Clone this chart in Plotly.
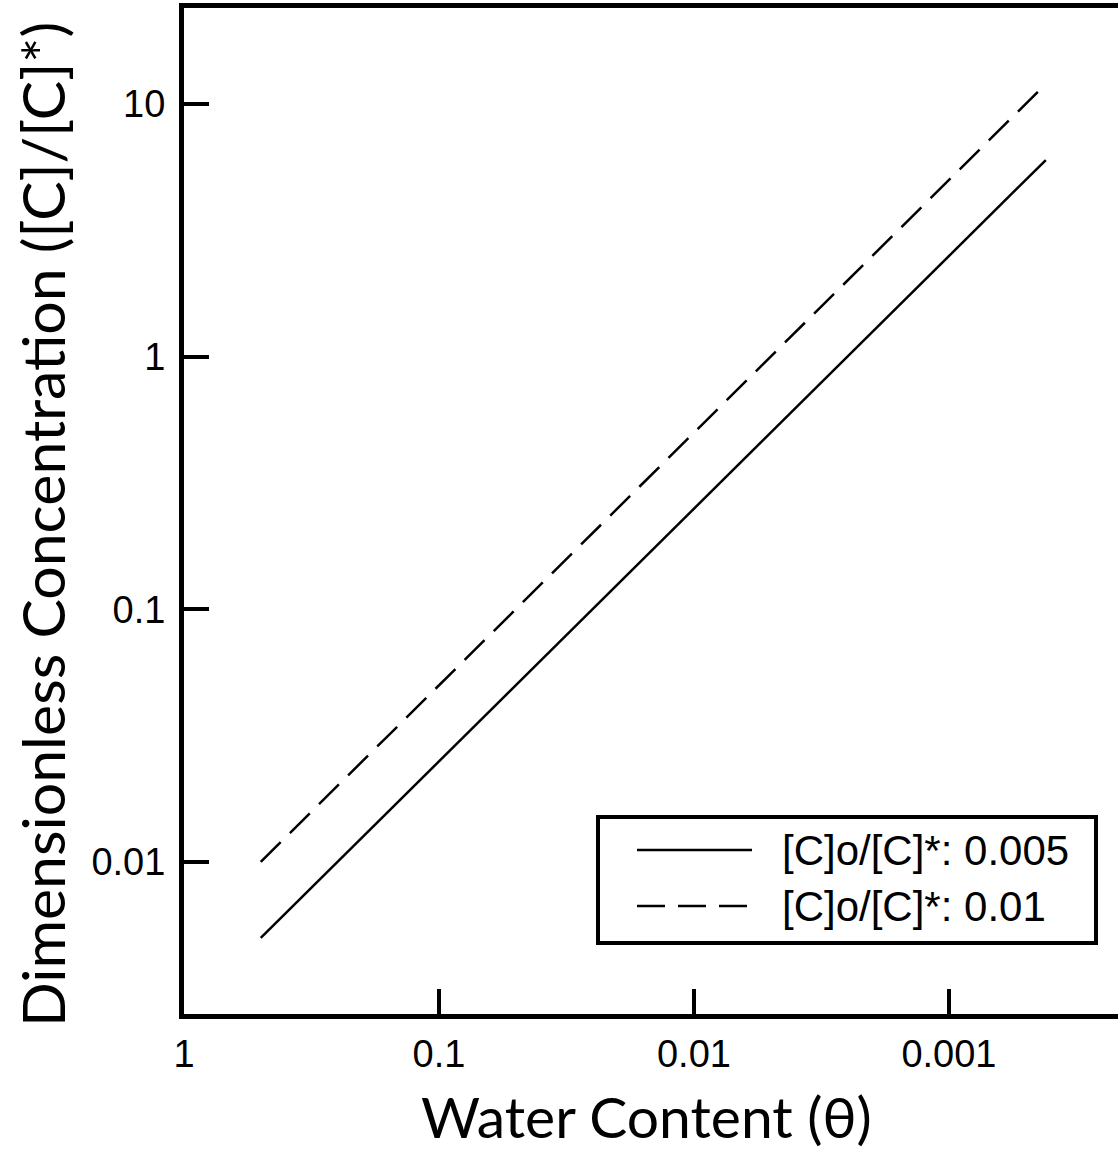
import plotly.graph_objects as go

# ---- data ----
water_content = [0.5, 0.2, 0.1, 0.05, 0.02, 0.01, 0.005, 0.002, 0.001, 0.0005, 0.000417]
conc_0005 = [0.005, 0.0125, 0.025, 0.05, 0.125, 0.25, 0.5, 1.25, 2.5, 5.0, 6.0]
conc_001 = [0.01, 0.025, 0.05, 0.1, 0.25, 0.5, 1.0, 2.5, 5.0, 10.0, 12.0]
series_names = ["[C]o/[C]*: 0.005", "[C]o/[C]*: 0.01"]
x_tickvals = [1, 0.1, 0.01, 0.001]
x_ticktext = ["1", "0.1", "0.01", "0.001"]
y_tickvals = [10, 1, 0.1, 0.01]
y_ticktext = ["10", "1", "0.1", "0.01"]

W, H = 1118, 1153
L, R, T, B = 184, 0, 8, 139
pw, ph = W - L - R, H - T - B

def px_x(p):
    return (p - L) / pw

def px_y(p):
    return (H - B - p) / ph

TITLE_FONT = "Lato, 'Open Sans', sans-serif"
TICK_FONT = "'Liberation Sans', Arial, sans-serif"
DASH = "28px,13px"

fig = go.Figure()
fig.add_trace(go.Scatter(x=water_content, y=conc_0005, mode="lines",
                         line=dict(color="black", width=2.5), name=series_names[0],
                         showlegend=False))
fig.add_trace(go.Scatter(x=water_content, y=conc_001, mode="lines",
                         line=dict(color="black", width=2.5, dash=DASH), name=series_names[1],
                         showlegend=False))

fig.update_layout(
    width=W, height=H,
    margin=dict(l=L, r=R, t=T, b=B),
    paper_bgcolor="white", plot_bgcolor="white",
    showlegend=False,
)
fig.update_xaxes(
    type="log", range=[0, -3.663],
    tickmode="array", tickvals=x_tickvals, ticktext=x_ticktext,
    ticks="inside", ticklen=25, tickwidth=4, tickcolor="black",
    showline=True, linewidth=5, linecolor="black", mirror=True,
    showgrid=False, zeroline=False,
    tickfont=dict(family=TICK_FONT, size=38, color="black"),
    ticklabelstandoff=2,
)
fig.update_yaxes(
    type="log", range=[-2.602, 1.380],
    tickmode="array", tickvals=y_tickvals, ticktext=y_ticktext,
    ticks="inside", ticklen=25, tickwidth=4, tickcolor="black",
    showline=True, linewidth=5, linecolor="black", mirror=False,
    showgrid=False, zeroline=False,
    tickfont=dict(family=TICK_FONT, size=38, color="black"),
    ticklabelstandoff=6,
)

# axis titles
fig.add_annotation(text="Water Content (θ)", xref="paper", yref="paper",
                   x=px_x(646), y=px_y(1116), xanchor="center", yanchor="middle",
                   showarrow=False, font=dict(family=TITLE_FONT, size=57, color="black"))
fig.add_annotation(text="Dimensionless Concentration ([C]/[C]*)", xref="paper", yref="paper",
                   x=px_x(42), y=px_y(525), xanchor="center", yanchor="middle",
                   textangle=-90, showarrow=False,
                   font=dict(family=TITLE_FONT, size=59, color="black"))

# legend box (drawn manually to match the long line samples)
fig.add_shape(type="rect", xref="paper", yref="paper",
              x0=px_x(598), x1=px_x(1096), y0=px_y(943), y1=px_y(817),
              line=dict(color="black", width=4), fillcolor="white", layer="above")
legend_rows = [(850, None), (906, DASH)]
for (ly, dash), name in zip(legend_rows, series_names):
    fig.add_shape(type="line", xref="paper", yref="paper",
                  x0=px_x(637), x1=px_x(752), y0=px_y(ly), y1=px_y(ly),
                  line=dict(color="black", width=2.5, dash=dash), layer="above")
    fig.add_annotation(text=name, xref="paper", yref="paper",
                       x=px_x(780), y=px_y(ly), xanchor="left", yanchor="middle",
                       showarrow=False, font=dict(family=TICK_FONT, size=42, color="black"))

fig.write_html("out.html")
